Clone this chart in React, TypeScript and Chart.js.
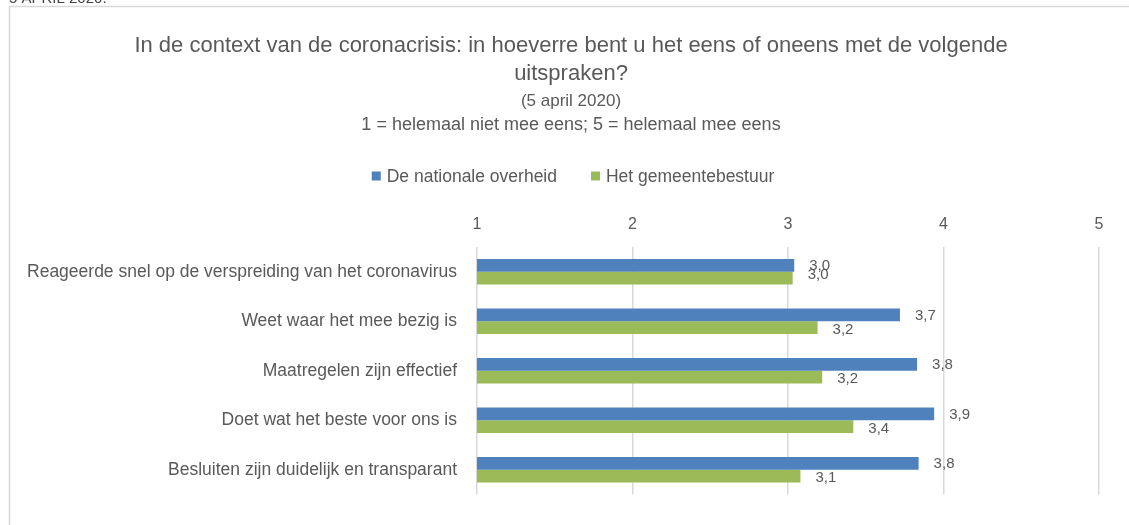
import React, { useEffect, useRef } from "react";
import { Chart, registerables } from "chart.js";

Chart.register(...registerables);

const topNote = "5 APRIL 2020.";
const titleLines = [
  "In de context van de coronacrisis: in hoeverre bent u het eens of oneens met de volgende",
  "uitspraken?",
];
const subtitleDate = "(5 april 2020)";
const subtitleScale = "1 = helemaal niet mee eens; 5 = helemaal mee eens";

const categories = [
  "Reageerde snel op de verspreiding van het coronavirus",
  "Weet waar het mee bezig is",
  "Maatregelen zijn effectief",
  "Doet wat het beste voor ons is",
  "Besluiten zijn duidelijk en transparant",
];
const seriesNames = ["De nationale overheid", "Het gemeentebestuur"];
const nationaleOverheid = [3.04, 3.72, 3.83, 3.94, 3.84];
const gemeentebestuur = [3.03, 3.19, 3.22, 3.42, 3.08];
const xTicks = [1, 2, 3, 4, 5];

const BLUE = "#4F81BD";
const GREEN = "#9BBB59";
const TEXT = "#595959";
const GRID = "#D9D9D9";
const FONT = "'Liberation Sans', Arial, sans-serif";

const decor = {
  id: "decor",
  beforeDraw(chart: any) {
    const ctx = chart.ctx;
    ctx.save();
    ctx.fillStyle = "#ffffff";
    ctx.fillRect(0, 0, chart.width, chart.height);
    ctx.strokeStyle = GRID;
    ctx.lineWidth = 1.5;
    ctx.strokeRect(9.5, 6.5, chart.width + 20, chart.height + 20);
    ctx.fillStyle = "#404040";
    ctx.font = `15px ${FONT}`;
    ctx.textAlign = "left";
    ctx.textBaseline = "alphabetic";
    ctx.fillText(topNote, 9, 3);

    const cx = 571;
    ctx.fillStyle = TEXT;
    ctx.textAlign = "center";
    ctx.textBaseline = "middle";
    ctx.font = `22px ${FONT}`;
    ctx.fillText(titleLines[0], cx, 46);
    ctx.fillText(titleLines[1], cx, 74);
    ctx.font = `17px ${FONT}`;
    ctx.fillText(subtitleDate, cx, 101);
    ctx.font = `18px ${FONT}`;
    ctx.fillText(subtitleScale, cx, 125);

    ctx.font = `17.5px ${FONT}`;
    ctx.textAlign = "left";
    const ds = chart.data.datasets;
    const items = ds.map((d: any) => ({ label: d.label, color: d.backgroundColor }));
    const box = 9;
    const gapBoxText = 6;
    const gapItems = 34;
    const widths = items.map((it: any) => box + gapBoxText + ctx.measureText(it.label).width);
    const total = widths.reduce((a: number, b: number) => a + b, 0) + gapItems * (items.length - 1);
    let x = 573 - total / 2;
    const ly = 176;
    items.forEach((it: any, i: number) => {
      ctx.fillStyle = it.color;
      ctx.fillRect(x, ly - box / 2, box, box);
      ctx.fillStyle = TEXT;
      ctx.fillText(it.label, x + box + gapBoxText, ly + 1);
      x += widths[i] + gapItems;
    });
    ctx.restore();
  },
  afterDatasetsDraw(chart: any) {
    const ctx = chart.ctx;
    ctx.save();
    ctx.font = `15px ${FONT}`;
    ctx.fillStyle = TEXT;
    ctx.textAlign = "left";
    ctx.textBaseline = "middle";
    const m0 = chart.getDatasetMeta(0);
    const m1 = chart.getDatasetMeta(1);
    const ds = chart.data.datasets;
    m0.data.forEach((b0: any, i: number) => {
      const b1 = m1.data[i];
      const close = Math.abs(b0.x - b1.x) < 25;
      const t0 = ds[0].data[i].toFixed(1).replace(".", ",");
      const t1 = ds[1].data[i].toFixed(1).replace(".", ",");
      ctx.fillText(t0, b0.x + 15, b0.y + 1);
      ctx.fillText(t1, b1.x + 15, b1.y + (close ? -3 : 2));
    });
    ctx.restore();
  },
};

export default function App() {
  const ref = useRef<HTMLCanvasElement | null>(null);
  useEffect(() => {
    if (!ref.current) return;
    const chart = new Chart(ref.current, {
      type: "bar",
      data: {
        labels: categories,
        datasets: [
          { label: seriesNames[0], data: nationaleOverheid, backgroundColor: BLUE, borderWidth: 0 },
          { label: seriesNames[1], data: gemeentebestuur, backgroundColor: GREEN, borderWidth: 0 },
        ],
      },
      options: {
        indexAxis: "y",
        responsive: false,
        animation: false,
        layout: { padding: { left: 0, right: 30, top: 200, bottom: 28 } },
        datasets: { bar: { barPercentage: 1, categoryPercentage: 0.52 } },
        plugins: {
          legend: { display: false },
          title: { display: false },
          tooltip: { enabled: false },
        },
        scales: {
          x: {
            position: "top",
            min: 1,
            max: 5,
            afterBuildTicks: (s: any) => {
              s.ticks = xTicks.map((v) => ({ value: v }));
            },
            afterFit: (s: any) => {
              s.height = 47;
            },
            ticks: {
              padding: 13,
              color: TEXT,
              font: { family: FONT, size: 16 },
              callback: (v: any) => String(v),
            },
            grid: { color: GRID, lineWidth: 1.5, drawTicks: false },
            border: { display: false },
          },
          y: {
            afterFit: (s: any) => {
              s.width = 477;
            },
            ticks: {
              padding: 20,
              color: TEXT,
              font: { family: FONT, size: 17.5 },
            },
            grid: { display: false, drawTicks: false },
            border: { display: false },
          },
        },
      },
      plugins: [decor],
    });
    return () => chart.destroy();
  }, []);
  return (
    <div style={{ position: "absolute", left: 0, top: 0, width: 1129, height: 525 }}>
      <canvas ref={ref} width={1129} height={525} style={{ display: "block" }} />
    </div>
  );
}
